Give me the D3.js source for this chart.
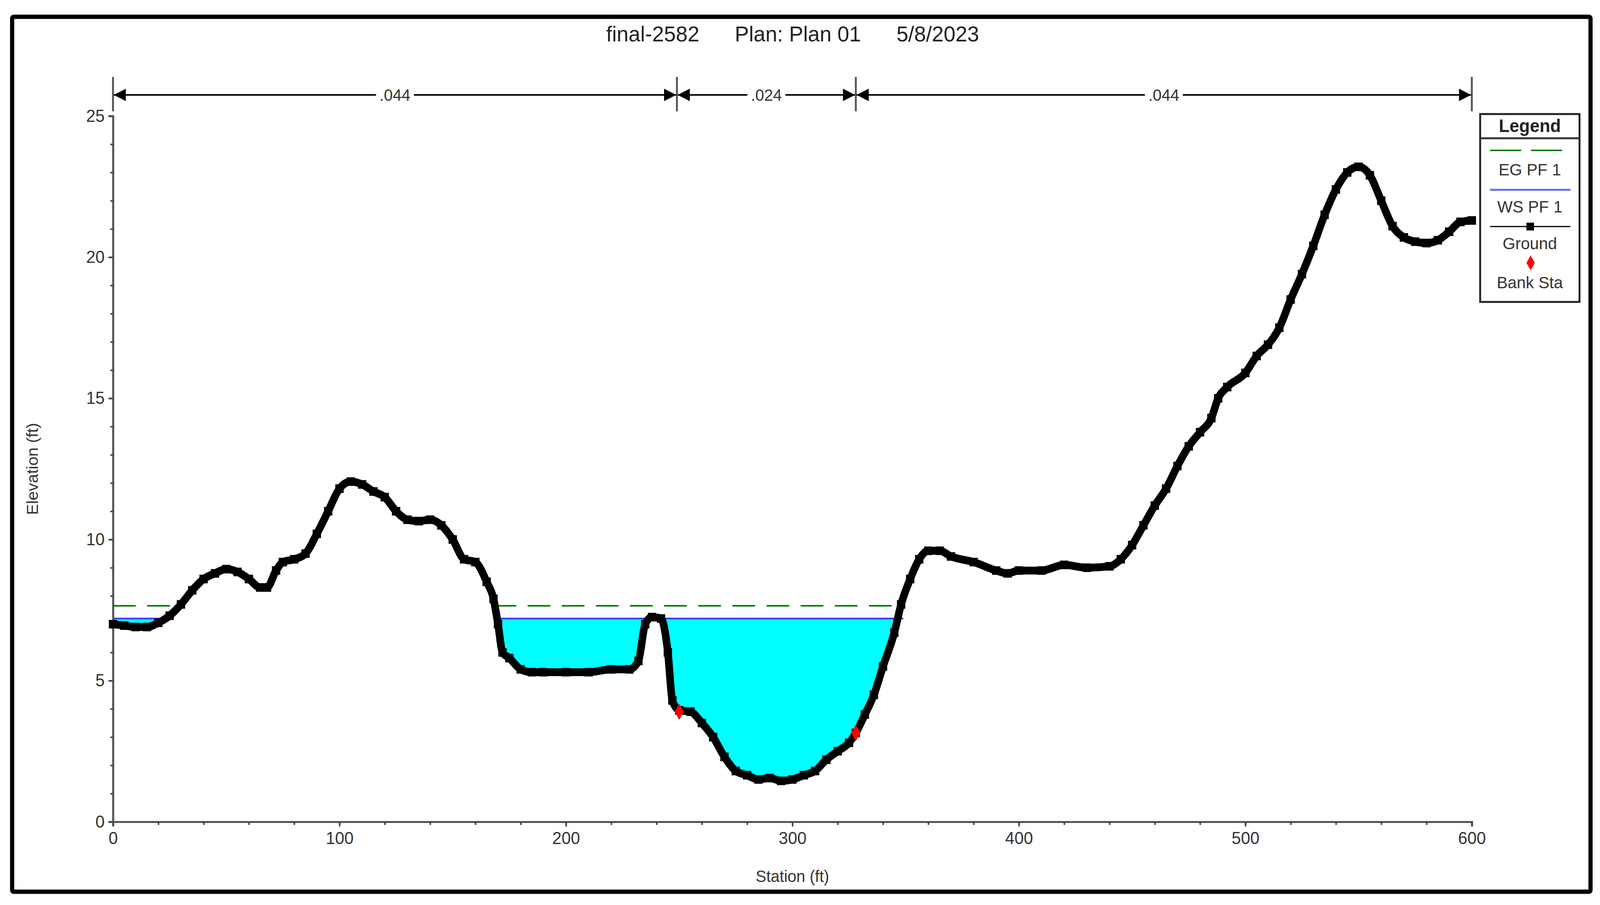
<!DOCTYPE html>
<html><head><meta charset="utf-8">
<script src="https://cdn.jsdelivr.net/npm/d3@7"></script>
<style>html,body{margin:0;padding:0;background:#fff;overflow:hidden;width:100vw;height:100vh}svg{display:block;width:100vw;height:100vh}text{font-family:Arial,"Liberation Sans",sans-serif}</style>
</head><body><svg id="c" viewBox="0 0 4219 2317" preserveAspectRatio="none"></svg>
<script>
const stations=[0,5,10,15,20,25,30,35,40,45,50,55,60,65,68,72,75,80,85,90,95,100,105,110,115,120,125,130,135,140,145,150,155,160,165,168,170,172,175,180,185,190,200,210,220,228,232,235,238,242,245,247,250,255,260,265,270,275,280,285,290,295,300,305,310,315,320,325,328,332,336,340,345,348,352,356,360,365,370,380,390,395,400,410,420,430,440,445,450,455,460,465,470,475,480,485,488,492,500,505,510,515,520,525,530,535,540,545,550,555,560,565,570,575,580,585,590,595,600];
const ground=[7.0,6.95,6.9,6.9,7.05,7.3,7.7,8.2,8.6,8.8,8.95,8.85,8.6,8.3,8.3,8.9,9.2,9.3,9.5,10.2,11.0,11.8,12.05,11.95,11.7,11.5,11.0,10.7,10.65,10.7,10.5,10.0,9.3,9.2,8.5,7.9,7.0,6.0,5.8,5.4,5.3,5.3,5.3,5.3,5.4,5.4,5.7,7.0,7.25,7.2,6.0,4.3,3.95,3.9,3.5,3.0,2.3,1.8,1.65,1.5,1.55,1.45,1.5,1.65,1.8,2.2,2.5,2.8,3.15,3.8,4.5,5.5,6.7,7.7,8.6,9.3,9.6,9.6,9.4,9.2,8.9,8.8,8.9,8.9,9.1,9.0,9.05,9.3,9.8,10.5,11.2,11.8,12.6,13.3,13.8,14.3,15.0,15.4,15.9,16.5,16.9,17.5,18.5,19.4,20.4,21.5,22.4,23.0,23.2,22.9,22.0,21.1,20.7,20.55,20.5,20.6,20.9,21.25,21.3];
const wsElev=7.2, egElev=7.65;
const wetRanges=[[0,23],[169,349]];
const egRanges=[[0,27],[168,349]];
const bankSta=[250,328], bankElev=[3.9,3.15];
const nBreaks=[0,249,328,600], nValues=[".044",".024",".044"];
const xTicks=[0,100,200,300,400,500,600], yTicks=[0,5,10,15,20,25];
const legendItems=["EG PF 1","WS PF 1","Ground","Bank Sta"];

const svg=d3.select("#c");
const x=d3.scaleLinear().domain([0,600]).range([298,3881]);
const y=d3.scaleLinear().domain([0,25]).range([2104,297]);
svg.append("rect").attr("x",32).attr("y",43).attr("width",4162).attr("height",2240).attr("fill","none").attr("stroke","#000").attr("stroke-width",11).attr("rx",4);
svg.append("text").attr("x",2090).attr("y",106).attr("text-anchor","middle").attr("font-size",56).attr("fill","#222").attr("xml:space","preserve").text("final-2582      Plan: Plan 01      5/8/2023");

const pts=stations.map((s,i)=>({s,g:ground[i]}));
wetRanges.forEach(r=>{
  const seg=pts.filter(p=>p.s>=r[0]-5&&p.s<=r[1]+5);
  const clip="cl"+r[0];
  svg.append("clipPath").attr("id",clip).append("rect").attr("x",x(r[0])).attr("y",0).attr("width",x(r[1])-x(r[0])).attr("height",2317);
  svg.append("path").datum(seg).attr("clip-path",`url(#${clip})`).attr("fill","#00ffff")
    .attr("d",d3.area().x(d=>x(d.s)).y0(d=>y(Math.min(d.g,wsElev))).y1(y(wsElev)));
  svg.append("line").attr("x1",x(r[0])).attr("x2",x(r[1])).attr("y1",y(wsElev)).attr("y2",y(wsElev)).attr("stroke","#3333ff").attr("stroke-width",4);
});
egRanges.forEach(r=>svg.append("line").attr("x1",x(r[0])).attr("x2",x(r[1])).attr("y1",y(egElev)).attr("y2",y(egElev)).attr("stroke","#008000").attr("stroke-width",4).attr("stroke-dasharray","60,30"));

svg.append("g").attr("transform",`translate(0,${y(0)})`).call(d3.axisBottom(x).tickValues(xTicks).tickSize(12).tickPadding(14));
svg.append("g").attr("transform",`translate(0,${y(0)})`).call(d3.axisBottom(x).tickValues(d3.range(0,601,20)).tickSize(8).tickFormat(""));
svg.append("g").attr("transform",`translate(${x(0)},0)`).call(d3.axisLeft(y).tickValues(yTicks).tickSize(12).tickPadding(10));
svg.append("g").attr("transform",`translate(${x(0)},0)`).call(d3.axisLeft(y).tickValues(d3.range(0,26,1)).tickSize(7).tickFormat(""));
svg.selectAll(".domain").attr("stroke","#555").attr("stroke-width",5);
svg.selectAll(".tick line").attr("stroke","#444").attr("stroke-width",4);
svg.selectAll(".tick text").attr("font-size",44).attr("fill","#333");
svg.append("text").attr("x",x(300)).attr("y",2258).attr("text-anchor","middle").attr("font-size",42).attr("fill","#333").text("Station (ft)");
svg.append("text").attr("transform",`translate(100,${y(12.5)}) rotate(-90)`).attr("text-anchor","middle").attr("font-size",42).attr("fill","#333").text("Elevation (ft)");

svg.append("path").datum(pts).attr("fill","none").attr("stroke","#000").attr("stroke-width",20).attr("stroke-linejoin","round").attr("d",d3.line().curve(d3.curveMonotoneX).x(d=>x(d.s)).y(d=>y(d.g)));
svg.selectAll(".gp").data(pts).enter().append("rect").attr("x",d=>x(d.s)-11).attr("y",d=>y(d.g)-11).attr("width",22).attr("height",22).attr("fill","#000");
bankSta.forEach((s,i)=>svg.append("path").attr("d",d3.symbol(d3.symbolDiamond,500)()).attr("transform",`translate(${x(s)},${y(bankElev[i])})`).attr("fill","#ff0000"));

const ny=243;
nBreaks.forEach(b=>svg.append("line").attr("x1",x(b)).attr("x2",x(b)).attr("y1",197).attr("y2",285).attr("stroke","#555").attr("stroke-width",5));
svg.append("defs").html('<marker id="ar" viewBox="0 0 10 10" refX="10" refY="5" markerWidth="8" markerHeight="8" orient="auto-start-reverse"><path d="M0,0L10,5L0,10z" fill="#000"/></marker>');
nValues.forEach((v,i)=>{
  const a=x(nBreaks[i]),b=x(nBreaks[i+1]),m=(a+b)/2;
  const half=50;
  svg.append("line").attr("x1",a+2).attr("x2",m-half).attr("y1",ny).attr("y2",ny).attr("stroke","#000").attr("stroke-width",4).attr("marker-start","url(#ar)");
  svg.append("line").attr("x1",m+half).attr("x2",b-2).attr("y1",ny).attr("y2",ny).attr("stroke","#000").attr("stroke-width",4).attr("marker-end","url(#ar)");
  svg.append("text").attr("x",m).attr("y",ny+15).attr("text-anchor","middle").attr("font-size",42).attr("fill","#333").text(v);
});

const lg=svg.append("g");
const L=3903,T=292,W=262,H=481;
lg.append("rect").attr("x",L).attr("y",T).attr("width",W).attr("height",H).attr("fill","#fff").attr("stroke","#222").attr("stroke-width",5);
lg.append("line").attr("x1",L).attr("x2",L+W).attr("y1",T+62).attr("y2",T+62).attr("stroke","#333").attr("stroke-width",5);
lg.append("text").attr("x",L+W/2).attr("y",T+46).attr("text-anchor","middle").attr("font-size",46).attr("font-weight","bold").attr("fill","#222").text("Legend");
lg.append("line").attr("x1",L+26).attr("x2",L+236).attr("y1",T+93).attr("y2",T+93).attr("stroke","#008000").attr("stroke-width",4).attr("stroke-dasharray","82,26");
lg.append("line").attr("x1",L+26).attr("x2",L+238).attr("y1",T+194).attr("y2",T+194).attr("stroke","#6666ff").attr("stroke-width",5);
lg.append("line").attr("x1",L+26).attr("x2",L+238).attr("y1",T+288).attr("y2",T+288).attr("stroke","#000").attr("stroke-width",3);
lg.append("rect").attr("x",L+122).attr("y",T+278).attr("width",20).attr("height",20).attr("fill","#000");
lg.append("path").attr("d",d3.symbol(d3.symbolDiamond,420)()).attr("transform",`translate(${L+133},${T+381})`).attr("fill","#ff0000");
const ty=[T+157,T+252,T+346,T+446];
legendItems.forEach((t,i)=>lg.append("text").attr("x",L+W/2).attr("y",ty[i]).attr("text-anchor","middle").attr("font-size",43).attr("fill","#333").text(t));
</script></body></html>
